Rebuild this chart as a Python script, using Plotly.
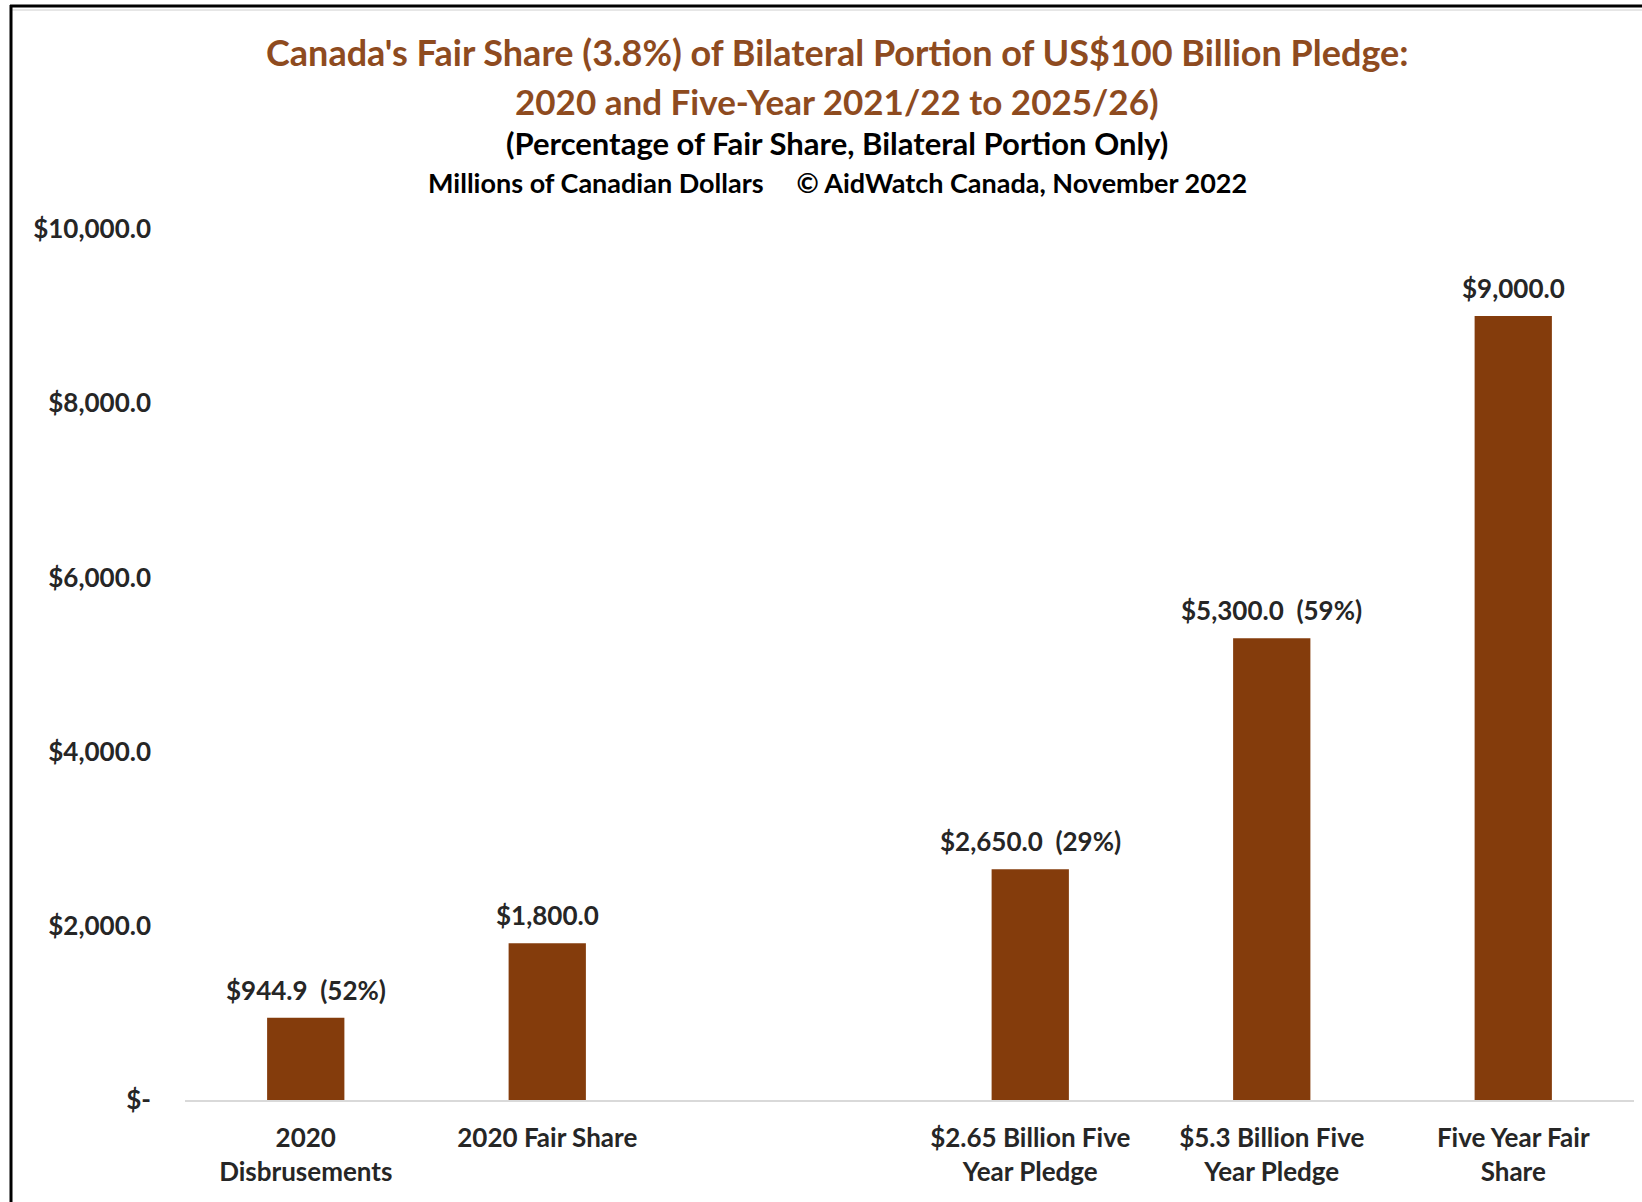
import plotly.graph_objects as go

# Categories (a blank spacer slot separates the 2020 bars from the five-year bars)
categories = [
    "2020<br>Disbrusements",
    "2020 Fair Share",
    " ",
    "$2.65 Billion Five<br>Year Pledge",
    "$5.3 Billion Five<br>Year Pledge",
    "Five Year Fair<br>Share",
]
values = [944.9, 1800.0, None, 2650.0, 5300.0, 9000.0]
pct_of_fair_share = ["52%", "", "", "29%", "59%", ""]

y_ticks = [0, 2000, 4000, 6000, 8000, 10000]

title_lines = [
    "Canada's Fair Share (3.8%) of Bilateral Portion of US$100 Billion Pledge:",
    "2020 and Five-Year 2021/22 to 2025/26)",
    "(Percentage of Fair Share, Bilateral Portion Only)",
    "Millions of Canadian Dollars \u00a0\u00a0\u00a0\u00a0\u00a9 AidWatch Canada, November 2022",
]

BAR = "#843C0C"
TITLE = "#8E4B1F"
TEXT = "#262626"
FONT = "Lato"

W, H = 1642, 1202
ML, MR, MT, MB = 185, 8, 229, 102
PW, PH = W - ML - MR, H - MT - MB


def px_x(p):
    return (p - ML) / PW


def px_y(p):
    return (H - MB - p) / PH


def money(v):
    return "$-" if v == 0 else f"${v:,.1f}"


fig = go.Figure(
    go.Bar(
        x=categories,
        y=values,
        marker=dict(color=BAR, line=dict(width=0)),
        width=0.32,
        hoverinfo="skip",
    )
)

annotations = []
for cat, v, pct in zip(categories, values, pct_of_fair_share):
    if v is None:
        continue
    label = money(v) + (f"\u00a0\u00a0({pct})" if pct else "")
    annotations.append(
        dict(
            x=cat, y=v, xref="x", yref="y", text=label, showarrow=False,
            yanchor="middle", yshift=28,
            font=dict(family=FONT, size=26, color=TEXT, weight="bold"),
        )
    )

title_specs = [(52, 36, TITLE), (101, 35, TITLE), (143, 31, "#000000"), (183, 27, "#000000")]
for line, (py, size, color) in zip(title_lines, title_specs):
    annotations.append(
        dict(
            x=px_x(837), y=px_y(py), xref="paper", yref="paper", text=line,
            showarrow=False, xanchor="center", yanchor="middle",
            font=dict(family=FONT, size=size, color=color, weight="bold"),
        )
    )

fig.update_layout(
    width=W, height=H,
    margin=dict(l=ML, r=MR, t=MT, b=MB),
    paper_bgcolor="white", plot_bgcolor="white",
    showlegend=False,
    annotations=annotations,
    shapes=[
        dict(type="line", xref="paper", yref="paper",
             x0=px_x(10), x1=px_x(W + 5), y0=px_y(6), y1=px_y(6),
             line=dict(color="black", width=3)),
        dict(type="line", xref="paper", yref="paper",
             x0=px_x(10), x1=px_x(W + 5), y0=px_y(10), y1=px_y(10),
             line=dict(color="#E6E6E6", width=2)),
        dict(type="line", xref="paper", yref="paper",
             x0=px_x(11), x1=px_x(11), y0=px_y(5), y1=px_y(H + 5),
             line=dict(color="black", width=3)),
    ],
)

fig.update_xaxes(
    type="category",
    categoryorder="array", categoryarray=categories,
    range=[-0.5, len(categories) - 0.5],
    showline=True, linecolor="#D9D9D9", linewidth=2,
    showgrid=False, zeroline=False, ticks="",
    ticklabelstandoff=14,
    tickfont=dict(family=FONT, size=26, color=TEXT, weight="bold"),
)

fig.update_yaxes(
    range=[0, 10000],
    tickvals=y_ticks,
    ticktext=[money(v) for v in y_ticks],
    showline=False, showgrid=False, zeroline=False, ticks="",
    ticklabelstandoff=33,
    tickfont=dict(family=FONT, size=26, color=TEXT, weight="bold"),
)

fig.write_html("out.html")
